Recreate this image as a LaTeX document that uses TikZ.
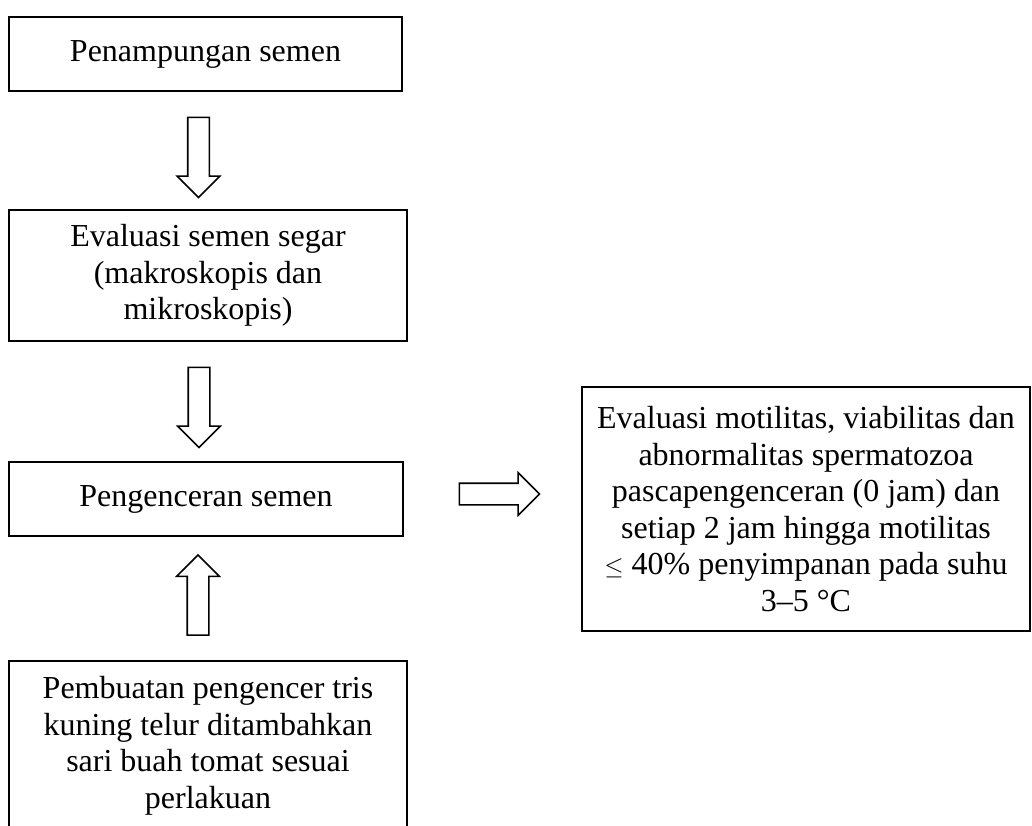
\documentclass[tikz,border=0pt]{standalone}
\usepackage{fontspec}
\setmainfont{Liberation Serif}
\usetikzlibrary{shapes.arrows}

\tikzset{
	box/.style = {draw, line width = 2pt, align = center, inner sep = 0pt,
		font = \fontsize{32}{36.5}\selectfont},
	bigarrow/.style = {single arrow, draw, line width = 1.6pt, inner xsep = 0pt,
		inner ysep = 10pt, single arrow head extend = 10.5pt, minimum height = 80pt}
}

\begin{document}
\begin{tikzpicture}[x = 1pt, y = -1pt]

	\useasboundingbox (0, 0) rectangle (1032, 825);
	\clip (0, 0) rectangle (1032, 825);

	% boxes on the left:
	\node[box, minimum width = 393pt, minimum height = 74pt] (tampung) at (205.5, 54) {Penampungan semen};
	\node[box, minimum width = 398pt, minimum height = 131pt] (segar) at (208, 275.5) {Evaluasi semen segar\\(makroskopis dan\\mikroskopis)};
	\node[box, minimum width = 394pt, minimum height = 74pt] (encer) at (206, 499) {Pengenceran semen};
	\node[box, minimum width = 398pt, minimum height = 170pt] (buat) at (208, 746) {Pembuatan pengencer tris\\kuning telur ditambahkan\\sari buah tomat sesuai\\perlakuan};

	% box on the right:
	\node[box, minimum width = 448pt, minimum height = 244pt] (evaluasi) at (806, 509) {Evaluasi motilitas, viabilitas dan\\abnormalitas spermatozoa\\pascapengenceran (0 jam) dan\\setiap 2 jam hingga motilitas\\$\leq$ 40\% penyimpanan pada suhu\\3--5 \textdegree C};

	% arrows:
	\node[bigarrow, rotate = -90] (panah1) at (198.5, 152) {};
	\node[bigarrow, rotate = -90] (panah2) at (199, 402) {};
	\node[bigarrow, rotate = 90] (panah3) at (198, 600.5) {};
	\node[bigarrow] (panah4) at (494, 494) {};

\end{tikzpicture}
\end{document}
